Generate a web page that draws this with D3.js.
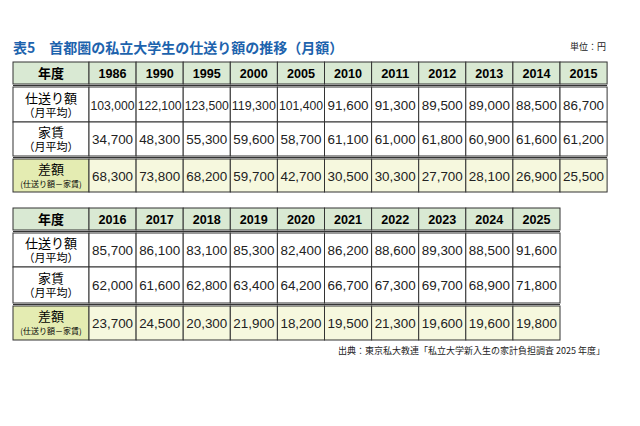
<!DOCTYPE html>
<html><head><meta charset="utf-8">
<script src="https://cdn.jsdelivr.net/npm/d3@7"></script>
<style>body{margin:0;background:#fff}</style></head>
<body><svg id="c" width="640" height="426"></svg>
<script>
const years1 = ["1986","1990","1995","2000","2005","2010","2011","2012","2013","2014","2015"];
const allowance1 = [103000,122100,123500,119300,101400,91600,91300,89500,89000,88500,86700];
const rent1 = [34700,48300,55300,59600,58700,61100,61000,61800,60900,61600,61200];
const diff1 = [68300,73800,68200,59700,42700,30500,30300,27700,28100,26900,25500];
const years2 = ["2016","2017","2018","2019","2020","2021","2022","2023","2024","2025"];
const allowance2 = [85700,86100,83100,85300,82400,86200,88600,89300,88500,91600];
const rent2 = [62000,61600,62800,63400,64200,66700,67300,69700,68900,71800];
const diff2 = [23700,24500,20300,21900,18200,19500,21300,19600,19600,19800];
const rowLabels = [["仕送り額","（月平均）"],["家賃","（月平均）"],["差額","(仕送り額－家賃)"]];

const svg = d3.select("#c");
const F = "'Noto Sans CJK JP','Noto Sans',sans-serif";
const N = "'Liberation Sans',Arial,sans-serif";
const fmt = d3.format(",");
svg.append("text").attr("x",13).attr("y",53).attr("font-family",F).attr("font-weight","bold")
  .attr("font-size",14).attr("fill","#1d63ad").text("表5　首都圏の私立大学生の仕送り額の推移（月額）");
svg.append("text").attr("x",606).attr("y",50).attr("text-anchor","end").attr("font-family",F)
  .attr("font-size",9).attr("fill","#222").text("単位：円");
svg.append("text").attr("x",605).attr("y",354).attr("text-anchor","end").attr("font-family",F)
  .attr("font-size",9).attr("fill","#222").text("出典：東京私大教連「私立大学新入生の家計負担調査 2025 年度」");

function table(years, rows, ys) {
  const x = d3.scaleBand().domain(years).range([89, 89 + 47.1*years.length]);
  const g = svg.append("g");
  const left = 13, right = x.range()[1];
  const cell = (x0,y0,w,h,fill)=>g.append("rect").attr("x",x0).attr("y",y0).attr("width",w).attr("height",h)
    .attr("fill",fill).attr("stroke","#333").attr("stroke-width",1);
  cell(left, ys[0], 89-left, ys[1]-ys[0], "#d9e9d3");
  g.append("text").attr("x",(left+89)/2).attr("y",(ys[0]+ys[1])/2+5).attr("text-anchor","middle")
    .attr("font-family",F).attr("font-weight","bold").attr("font-size",13).text("年度");
  years.forEach(y=>{
    cell(x(y), ys[0], x.bandwidth(), ys[1]-ys[0], "#d9e9d3");
    g.append("text").attr("x",x(y)+x.bandwidth()/2).attr("y",(ys[0]+ys[1])/2+5).attr("text-anchor","middle")
      .attr("font-family",N).attr("font-weight","bold").attr("font-size",12)
      .attr("textLength",28).attr("lengthAdjust","spacingAndGlyphs").text(y);
  });
  rows.forEach((vals,i)=>{
    const y0 = ys[2+2*i], y1 = ys[3+2*i];
    const last = i===2;
    cell(left, y0, 89-left, y1-y0, last?"#e4ecb2":"#fff");
    const lab = rowLabels[i];
    g.append("text").attr("x",(left+89)/2).attr("y",(y0+y1)/2-2).attr("text-anchor","middle")
      .attr("font-family",F).attr("font-size",13).text(lab[0]);
    g.append("text").attr("x",(left+89)/2).attr("y",(y0+y1)/2+(last?11:12)).attr("text-anchor","middle")
      .attr("font-family",F).attr("font-size",last?8:11).text(lab[1]);
    vals.forEach((v,j)=>{
      cell(x(years[j]), y0, x.bandwidth(), y1-y0, last?"#f6f8de":"#fff");
      g.append("text").attr("x",x(years[j])+x.bandwidth()/2).attr("y",(y0+y1)/2+5).attr("text-anchor","middle")
        .attr("font-family",N).attr("font-size",13).attr("fill","#222")
        .attr("textLength",v>=100000?44:41).attr("lengthAdjust","spacingAndGlyphs").text(fmt(v));
    });
  });
  [ys[1], ys[5]].forEach(yy=>g.append("line").attr("x1",left).attr("x2",right).attr("y1",yy+1.5).attr("y2",yy+1.5).attr("stroke","#333"));
}
table(years1,[allowance1,rent1,diff1],[62,84,87,122,122,156,159,192]);
table(years2,[allowance2,rent2,diff2],[208,230,233,267,267,303,306,340]);
</script></body></html>
